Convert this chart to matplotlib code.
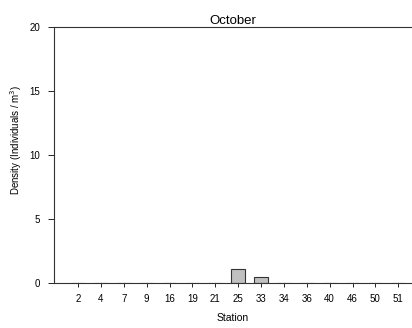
import numpy as np
import matplotlib
matplotlib.use('Agg')
import matplotlib.pyplot as plt

plt.rcParams['font.family'] = ['Liberation Sans', 'DejaVu Sans']

stations = ['2', '4', '7', '9', '16', '19', '21', '25', '33', '34', '36', '40', '46', '50', '51']
density = [0, 0, 0, 0, 0, 0, 0, 1.1, 0.5, 0, 0, 0, 0, 0, 0]

fig = plt.figure(figsize=(4.12, 3.28), dpi=100)
ax = fig.add_axes([0.131, 0.137, 0.869, 0.781])

x = np.arange(len(stations))
ax.bar(x, density, width=0.6, color='#c0c0c0', edgecolor='#333333', linewidth=0.8)

ax.set_xlim(-1.05, 14.6)
ax.set_ylim(0, 20)
ax.set_xticks(x)
ax.set_xticklabels(stations)
ax.set_yticks([0, 5, 10, 15, 20])
ax.tick_params(axis='both', labelsize=7, length=3, width=0.6, direction='out')
ax.tick_params(axis='x', pad=5)
ax.tick_params(axis='y', length=4, pad=6)

ax.spines['right'].set_visible(False)
for s in ['left', 'top', 'bottom']:
    ax.spines[s].set_linewidth(0.8)
    ax.spines[s].set_color('#333333')

ax.set_title('October', fontsize=9.5, pad=2)
ax.set_xlabel('Station', fontsize=7.5, labelpad=6)
ax.set_ylabel('Density (Individuals / m$^3$)', fontsize=7)
ax.yaxis.set_label_coords(-0.083, 0.56)

fig.savefig('out.png', dpi=100)
